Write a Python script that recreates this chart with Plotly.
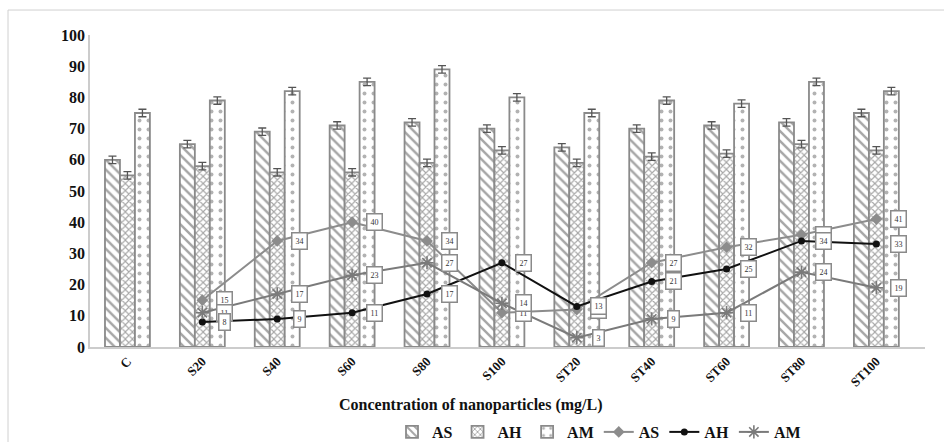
import plotly.graph_objects as go

categories = ["C", "S20", "S40", "S60", "S80", "S100", "ST20", "ST40", "ST60", "ST80", "ST100"]

bar_AS = [60, 65, 69, 71, 72, 70, 64, 70, 71, 72, 75]
bar_AH = [55, 58, 56, 56, 59, 63, 59, 61, 62, 65, 63]
bar_AM = [75, 79, 82, 85, 89, 80, 75, 79, 78, 85, 82]
bar_err = [1.2] * 11

line_cats = categories[1:]
line_AS = [15, 34, 40, 34, 11, 12, 27, 32, 36, 41]
line_AH = [8, 9, 11, 17, 27, 13, 21, 25, 34, 33]
line_AM = [11, 17, 23, 27, 14, 3, 9, 11, 24, 19]

x_title = "Concentration of nanoparticles (mg/L)"

FONT = "Liberation Serif"
GRAY = "#8a8a8a"

fig = go.Figure()

def add_bar(name, vals, shape, fg, size, sol):
    fig.add_trace(go.Bar(
        name=name, x=categories, y=vals,
        marker=dict(color="white", line=dict(color=GRAY, width=1.8),
                    pattern=dict(shape=shape, fgcolor=fg, size=size, solidity=sol)),
        error_y=dict(type="data", array=bar_err, color="#555555", thickness=1.3, width=4),
    ))

add_bar("AS", bar_AS, "\\", "#4d4d4d", 7, 0.35)
add_bar("AH", bar_AH, "x", "#4d4d4d", 5, 0.4)
add_bar("AM", bar_AM, ".", "#666666", 9, 0.15)

fig.add_trace(go.Scatter(name="AS", x=line_cats, y=line_AS, mode="lines+markers",
                         line=dict(color="#8c8c8c", width=2),
                         marker=dict(symbol="diamond", size=9, color="#8c8c8c")))
fig.add_trace(go.Scatter(name="AH", x=line_cats, y=line_AH, mode="lines+markers",
                         line=dict(color="#111111", width=2),
                         marker=dict(symbol="circle", size=7, color="#111111")))
fig.add_trace(go.Scatter(name="AM", x=line_cats, y=line_AM, mode="lines+markers",
                         line=dict(color="#7a7a7a", width=2),
                         marker=dict(symbol="asterisk-open", size=11,
                                     line=dict(color="#222222", width=1.6))))

annotations = []
for series in (line_AS, line_AM, line_AH):
    for c, v in zip(line_cats, series):
        annotations.append(dict(
            x=c, y=v, xref="x", yref="y", text=str(v), showarrow=False,
            xshift=22, font=dict(family=FONT, size=8, color="#333333"),
            bgcolor="white", bordercolor=GRAY, borderwidth=1.5, borderpad=3,
        ))

annotations.append(dict(
    x=(471 - 90) / 835, y=(347 - 405) / 312, xref="paper", yref="paper",
    text=x_title, showarrow=False, xanchor="center", yanchor="middle",
    font=dict(family=FONT, size=16, color="#111111", weight="bold"),
))

fig.update_layout(
    width=944, height=442,
    margin=dict(l=90, r=19, t=35, b=95, autoexpand=False),
    paper_bgcolor="white", plot_bgcolor="white",
    barmode="group", bargap=0.4, bargroupgap=0.0,
    font=dict(family=FONT, color="#111111"),
    annotations=annotations,
    showlegend=True,
    legend=dict(orientation="h", x=(392 - 90) / 835, xanchor="left",
                y=(347 - 432) / 312, yanchor="middle",
                font=dict(family=FONT, size=16, color="#111111", weight="bold"),
                itemwidth=30, tracegroupgap=0, traceorder="normal"),
    xaxis=dict(showgrid=False, showline=True, linecolor="#cccccc", linewidth=1.5,
               tickangle=-45, tickfont=dict(family=FONT, size=13, weight="bold"),
               ticks="", automargin=False),
    yaxis=dict(range=[0, 100], dtick=10, showgrid=False, showline=True,
               linecolor="#cccccc", linewidth=1.5, zeroline=False, ticks="",
               tickfont=dict(family=FONT, size=16, weight="bold"), automargin=False),
    shapes=[dict(type="rect", xref="paper", yref="paper",
                 x0=-82/835, x1=1.05, y0=-0.5, y1=1.08,
                 line=dict(color="#d0d0d0", width=1), fillcolor="rgba(0,0,0,0)")],
)

fig.write_html("out.html", config={"displayModeBar": False},
               post_script="document.body.style.margin='0px';")
